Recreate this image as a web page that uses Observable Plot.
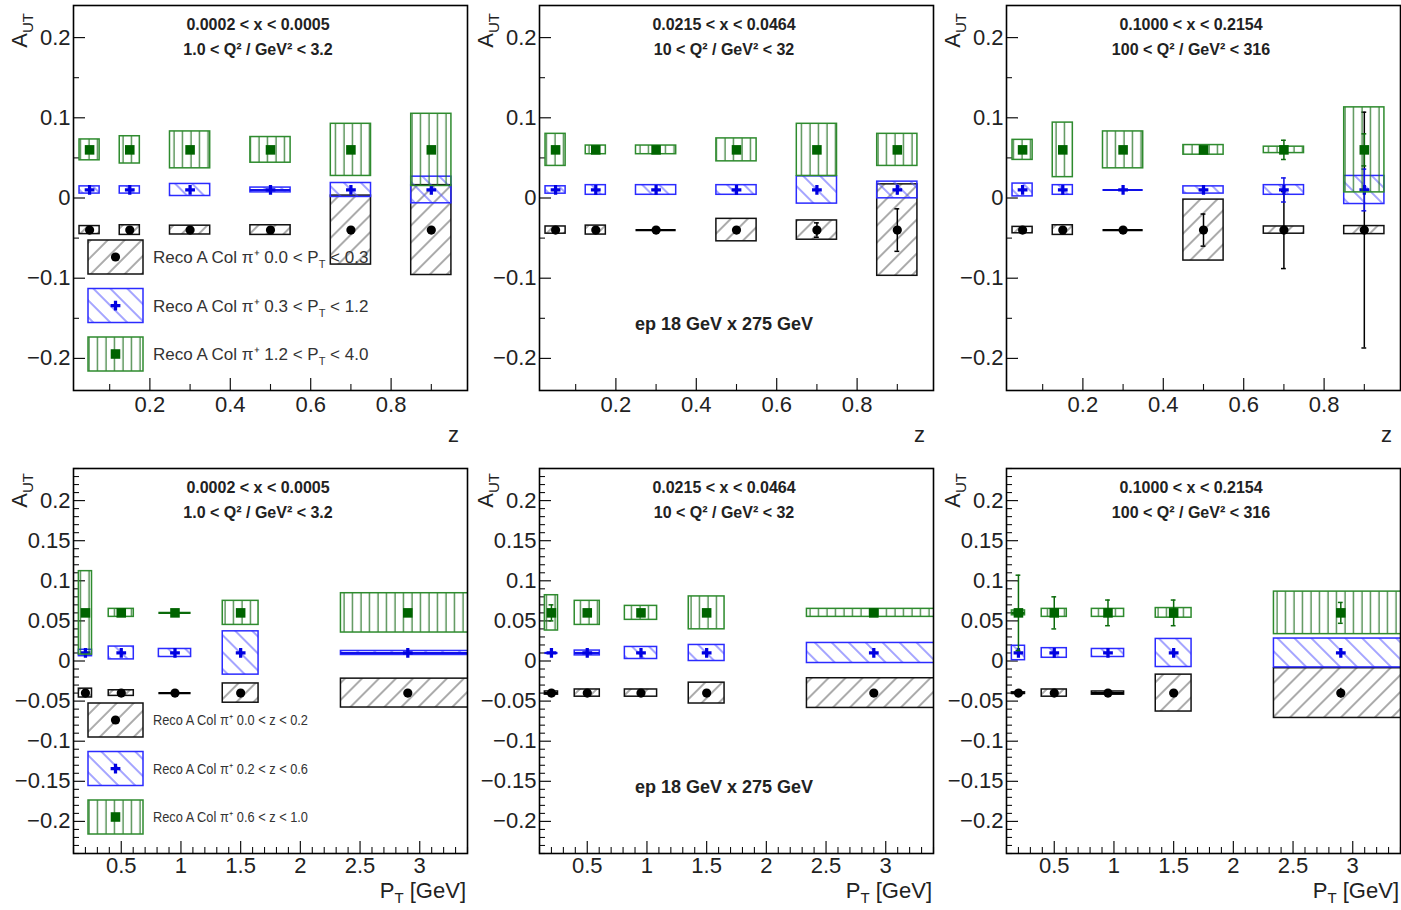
<!DOCTYPE html>
<html><head><meta charset="utf-8">
<script src="https://cdn.jsdelivr.net/npm/d3@7"></script>
<script src="https://cdn.jsdelivr.net/npm/@observablehq/plot@0.6"></script>
<style>
body{margin:0;background:#fff;}
#wrap{position:relative;width:1401px;height:910px;overflow:hidden;font-family:"Liberation Sans",Arial,Helvetica,sans-serif;}
#wrap svg.panel{position:absolute;}
</style></head><body>
<svg width="0" height="0" style="position:absolute">
<defs>
<pattern id="hatchBlack" patternUnits="userSpaceOnUse" width="12" height="12" patternTransform="rotate(45)"><line x1="6" y1="0" x2="6" y2="12" stroke="#666" stroke-width="1.1"/></pattern>
<pattern id="hatchBlue" patternUnits="userSpaceOnUse" width="12" height="12" patternTransform="rotate(-45)"><line x1="6" y1="0" x2="6" y2="12" stroke="#5a5aff" stroke-width="1.1"/></pattern>
<pattern id="hatchGreen" patternUnits="userSpaceOnUse" width="8.5" height="8.5"><line x1="4" y1="0" x2="4" y2="8.5" stroke="#1f6f1f" stroke-width="1.1"/></pattern>
</defs></svg>
<div id="wrap"></div>
<script>
// ---------------- data ----------------
const seriesY = [-0.04, 0.01, 0.06];           // black, blue, green offsets
const zCenters = [0.05, 0.15, 0.3, 0.5, 0.7, 0.9];
const zBoxWidths = [0.05, 0.05, 0.1, 0.1, 0.1, 0.1];
const ptCenters = [0.2, 0.5, 0.95, 1.5, 2.9];
const ptBoxWidths = [0.11, 0.21, 0.27, 0.3, 1.12];
const zTicks = [0.2, 0.4, 0.6, 0.8];
const zMinorTicks = [0.1, 0.3, 0.5, 0.7, 0.9];
const ptTicks = [0.5, 1, 1.5, 2, 2.5, 3];
const yTicksTop = [-0.2, -0.1, 0, 0.1, 0.2];
const yMinorTop = [-0.15, -0.05, 0.05, 0.15];
const yTicksBottom = [-0.2, -0.15, -0.1, -0.05, 0, 0.05, 0.1, 0.15, 0.2];
const xBinLabels = ["0.0002 < x < 0.0005", "0.0215 < x < 0.0464", "0.1000 < x < 0.2154"];
const q2BinLabels = ["1.0 < Q² / GeV² < 3.2", "10 < Q² / GeV² < 32", "100 < Q² / GeV² < 316"];
const beamLabel = "ep 18 GeV x 275 GeV";
const legendPt = [["Reco A Col π⁺ 0.0 < P", "T", " < 0.3"], ["Reco A Col π⁺ 0.3 < P", "T", " < 1.2"], ["Reco A Col π⁺ 1.2 < P", "T", " < 4.0"]];
const legendZ = ["Reco A Col π⁺ 0.0 < z < 0.2", "Reco A Col π⁺ 0.2 < z < 0.6", "Reco A Col π⁺ 0.6 < z < 1.0"];

// systematic half-heights [black, blue, green] per bin
const sysZ1 = [[0.005, 0.006, 0.0055, 0.006, 0.043, 0.056],
               [0.0045, 0.0045, 0.0075, 0.003, 0.0087, 0.0166],
               [0.013, 0.017, 0.023, 0.016, 0.0325, 0.045]];
const statZ1 = [[0.002, 0.002, 0.002, 0.002, 0.003, 0.004],
                [0.002, 0.002, 0.002, 0.002, 0.002, 0.003],
                [0.002, 0.002, 0.002, 0.002, 0.003, 0.003]];
const sysZ2 = [[0.0045, 0.0056, 0, 0.014, 0.012, 0.057],
               [0.0046, 0.006, 0.006, 0.006, 0.017, 0.0104],
               [0.02, 0.0054, 0.0054, 0.0143, 0.0325, 0.02]];
const statZ2 = [[0.002, 0.002, 0.003, 0.004, 0.009, 0.0265],
                [0.002, 0.002, 0.002, 0.002, 0.004, 0.006],
                [0.003, 0.002, 0.002, 0.003, 0.004, 0.004]];
const sysZ3 = [[0.004, 0.006, 0, 0.038, 0.0045, 0.005],
               [0.008, 0.006, 0, 0.0045, 0.006, 0.0175],
               [0.0125, 0.034, 0.023, 0.006, 0.004, 0.053]];
const statZ3 = [[0.002, 0.003, 0.004, 0.02, 0.048, 0.147],
                [0.002, 0.002, 0.002, 0.004, 0.015, 0.026],
                [0.002, 0.002, 0.003, 0.004, 0.012, 0.02]];
const sysPt1 = [[0.0055, 0.0035, 0, 0.012, 0.018],
                [0.004, 0.008, 0.005, 0.027, 0.0025],
                [0.052, 0.005, 0, 0.015, 0.0245]];
const statPt1 = [[0.002, 0.002, 0.002, 0.003, 0.004],
                 [0.002, 0.002, 0.002, 0.003, 0.003],
                 [0.002, 0.002, 0.002, 0.003, 0.004]];
const sysPt2 = [[0.002, 0.0045, 0.0045, 0.013, 0.0185],
                [0, 0.003, 0.0075, 0.01, 0.0125],
                [0.022, 0.015, 0.0087, 0.0205, 0.005]];
const statPt2 = [[0.003, 0.002, 0.002, 0.003, 0.004],
                 [0.003, 0.002, 0.002, 0.003, 0.004],
                 [0.01, 0.003, 0.003, 0.004, 0.005]];
const sysPt3 = [[0.001, 0.0045, 0.002, 0.023, 0.031],
                [0.009, 0.006, 0.005, 0.0175, 0.018],
                [0.003, 0.005, 0.005, 0.006, 0.0265]];
const statPt3 = [[0.003, 0.003, 0.003, 0.004, 0.006],
                 [0.004, 0.003, 0.003, 0.004, 0.005],
                 [0.047, 0.02, 0.016, 0.016, 0.013]];

// ---------------- styles ----------------
const patterns = ["url(#hatchBlack)", "url(#hatchBlue)", "url(#hatchGreen)"];
const boxStroke = ["#111", "#2b2bff", "#2e8b2e"];
const lineColor = ["#000", "#1010e8", "#0b6b0b"];
const markerColor = ["#000", "#0000e0", "#006400"];
const symbols = ["circle", "cross", "square"];
const radii = [4.6, 4.1, 5.4];
const fmt = d3.format("~g");
const W = 468, H = 455, ML = 73, MR = 1, FW = W - ML - MR;
const colLeft = [0, 466, 933];
const FONT = '"Liberation Sans", Arial, Helvetica, sans-serif';

const wrap = document.getElementById("wrap");

function makePanel(o) {
  const top = o.row === 0;
  const MT = top ? 5 : 13, MB = top ? 65 : 57, FH = H - MT - MB;
  const marks = [];
  marks.push(Plot.ruleY(o.yMajor, {y: d => d, insetRight: FW - 12, stroke: "#111", strokeWidth: 1.2}));
  marks.push(Plot.ruleY(o.yMinor, {y: d => d, insetRight: FW - 6, stroke: "#111", strokeWidth: 1.1}));
  marks.push(Plot.ruleX(o.xMajor, {x: d => d, insetTop: FH - 12, stroke: "#111", strokeWidth: 1.2}));
  marks.push(Plot.ruleX(o.xMinor, {x: d => d, insetTop: FH - 6, stroke: "#111", strokeWidth: 1.1}));
  for (let s = 0; s < 3; s++) {
    const rows = o.centers.map((c, i) => ({x: c, w: o.widths[i], y: seriesY[s], sys: o.sys[s][i], stat: o.stat[s][i]}));
    marks.push(Plot.rect(rows.filter(d => d.sys > 0), {
      x1: d => d.x - d.w / 2, x2: d => d.x + d.w / 2,
      y1: d => d.y - d.sys, y2: d => d.y + d.sys,
      fill: patterns[s], stroke: boxStroke[s], strokeWidth: 1.5, clip: true}));
    // horizontal bin bar, visible only where the systematic box is (nearly) flat
    marks.push(Plot.ruleY(rows.filter(d => d.sys <= 0.003), {y: "y", x1: d => d.x - d.w / 2, x2: d => d.x + d.w / 2,
      stroke: lineColor[s], strokeWidth: 2.2, clip: true}));
    marks.push(Plot.ruleX(rows, {x: "x", y1: d => d.y - d.stat, y2: d => d.y + d.stat,
      stroke: lineColor[s], strokeWidth: 1.5, clip: true}));
    const caps = rows.filter(d => d.stat > 0.008).flatMap(d => [{x: d.x, yc: d.y - d.stat}, {x: d.x, yc: d.y + d.stat}]);
    marks.push(Plot.ruleY(caps, {y: "yc", x1: d => d.x - o.cap, x2: d => d.x + o.cap, stroke: lineColor[s], strokeWidth: 1.5}));
    marks.push(Plot.dot(rows, {x: "x", y: "y", symbol: symbols[s], r: radii[s], fill: markerColor[s], stroke: "none"}));
  }
  marks.push(Plot.axisY(o.yMajor, {tickSize: 0, tickPadding: 3, fontSize: 22, tickFormat: fmt, label: null}));
  marks.push(Plot.axisX(o.xMajor, {tickSize: 0, tickPadding: top ? 6 : 4, fontSize: 22, tickFormat: fmt, label: null}));
  marks.push(Plot.frame({stroke: "#000", strokeWidth: 1.6}));

  const svg = Plot.plot({
    width: W, height: H, marginLeft: ML, marginRight: MR, marginTop: MT, marginBottom: MB,
    x: {domain: o.xDomain},
    y: {domain: [-0.24, 0.24]},
    style: {background: "transparent", fontFamily: FONT, color: "#222", overflow: "visible"},
    marks
  });
  svg.classList.add("panel");
  svg.style.left = colLeft[o.col] + "px";
  svg.style.top = (top ? 0 : 455) + "px";
  wrap.appendChild(svg);

  const g = d3.select(svg).append("g").attr("font-family", FONT).attr("fill", "#222").attr("text-anchor", "start");
  const fl = ML, ft = MT, fr = W - MR, fb = H - MB;
  // bin titles
  g.append("text").attr("x", fl + 185).attr("y", ft + 25).attr("text-anchor", "middle")
    .attr("font-weight", "bold").attr("font-size", 16).text(xBinLabels[o.col]);
  g.append("text").attr("x", fl + 185).attr("y", ft + 50).attr("text-anchor", "middle")
    .attr("font-weight", "bold").attr("font-size", 16).text(q2BinLabels[o.col]);
  if (o.col === 1) {
    g.append("text").attr("x", fl + 185).attr("y", ft + 325).attr("text-anchor", "middle")
      .attr("font-weight", "bold").attr("font-size", 18).text(beamLabel);
  }
  // y label A_UT
  const yl = g.append("text").attr("transform", `translate(27,${ft + (top ? 8 : 5)}) rotate(-90)`)
    .attr("text-anchor", "end").attr("font-size", 22);
  yl.append("tspan").text("A");
  yl.append("tspan").attr("dy", 6).attr("font-size", 15).text("UT");
  // x label
  if (top) {
    g.append("text").attr("x", fr - 8).attr("y", fb + 52).attr("text-anchor", "end").attr("font-size", 22).text("z");
  } else {
    const xl = g.append("text").attr("x", fr - 1).attr("y", fb + 45).attr("text-anchor", "end").attr("font-size", 22);
    xl.append("tspan").text("P");
    xl.append("tspan").attr("dy", 5).attr("font-size", 15).text("T");
    xl.append("tspan").attr("dy", -5).text(" [GeV]");
  }
  // legend
  if (o.col === 0) {
    const lg = g.append("g");
    for (let s = 0; s < 3; s++) {
      const by = ft + 235 + s * 48.5, bx = fl + 15, bw = 55, bh = 34;
      lg.append("rect").attr("x", bx).attr("y", by).attr("width", bw).attr("height", bh)
        .attr("fill", patterns[s]).attr("stroke", boxStroke[s]).attr("stroke-width", 1.5);
      const cx = bx + bw / 2, cy = by + bh / 2;
      if (s === 0) lg.append("circle").attr("cx", cx).attr("cy", cy).attr("r", radii[0]).attr("fill", markerColor[0]);
      else lg.append("path").attr("transform", `translate(${cx},${cy})`)
        .attr("d", d3.symbol(s === 1 ? d3.symbolCross : d3.symbolSquare, Math.PI * radii[s] * radii[s])())
        .attr("fill", markerColor[s]);
      if (top) {
        const t = lg.append("text").attr("x", fl + 80).attr("y", cy + 6).attr("font-size", 17).attr("fill", "#333").attr("text-anchor", "start");
        t.append("tspan").text(legendPt[s][0]);
        t.append("tspan").attr("dy", 5).attr("font-size", 11).text(legendPt[s][1]);
        t.append("tspan").attr("dy", -5).text(legendPt[s][2]);
      } else {
        lg.append("text").attr("x", fl + 80).attr("y", cy + 5).attr("font-size", 14).attr("fill", "#333").attr("text-anchor", "start")
          .attr("textLength", 155).attr("lengthAdjust", "spacingAndGlyphs").text(legendZ[s]);
      }
    }
  }
}

const ptMinor = d3.range(1, 35).map(i => i / 10).filter(v => Math.abs(v * 2 - Math.round(v * 2)) > 1e-6);
const yMinorBottom = d3.range(-24, 25).filter(i => i % 5 !== 0).map(i => i / 100);

const zSys = [sysZ1, sysZ2, sysZ3], zStat = [statZ1, statZ2, statZ3];
const pSys = [sysPt1, sysPt2, sysPt3], pStat = [statPt1, statPt2, statPt3];
for (let c = 0; c < 3; c++) {
  makePanel({row: 0, col: c, centers: zCenters, widths: zBoxWidths, sys: zSys[c], stat: zStat[c],
    xDomain: [0.01, 0.99], xMajor: zTicks, xMinor: zMinorTicks, yMajor: yTicksTop, yMinor: yMinorTop, cap: 0.006});
  makePanel({row: 1, col: c, centers: ptCenters, widths: ptBoxWidths, sys: pSys[c], stat: pStat[c],
    xDomain: [0.1, 3.4], xMajor: ptTicks, xMinor: ptMinor, yMajor: yTicksBottom, yMinor: yMinorBottom, cap: 0.02});
}
</script>
</body></html>
